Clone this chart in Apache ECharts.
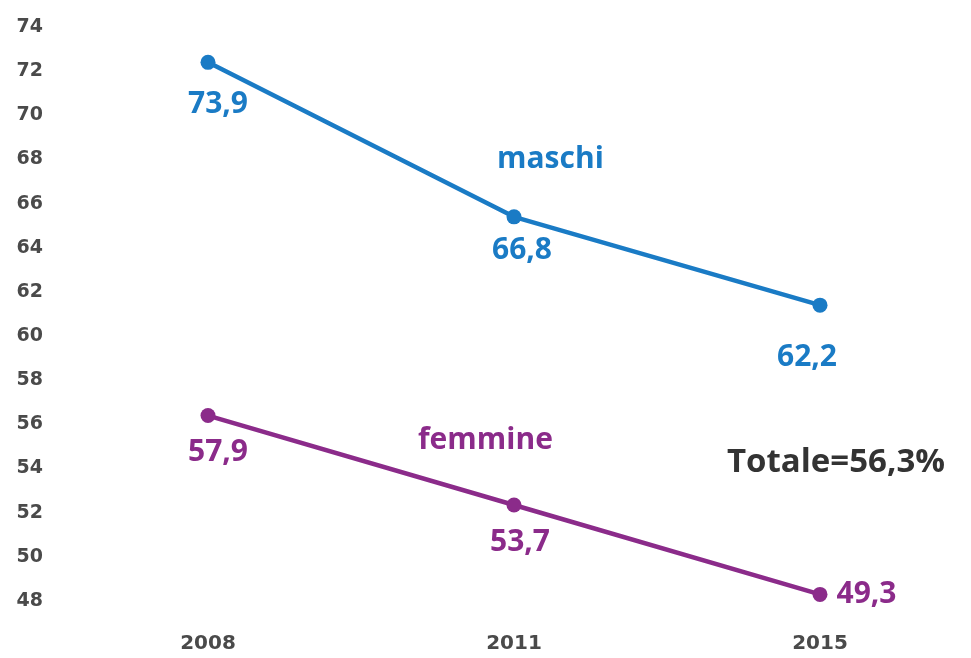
<!DOCTYPE html>
<html>
<head>
<meta charset="utf-8">
<script src="https://cdn.jsdelivr.net/npm/echarts@6/dist/echarts.min.js"></script>
<style>
  html, body { margin: 0; padding: 0; background: #fff; }
  #main { width: 971px; height: 658px; }
</style>
</head>
<body>
<div id="main"></div>
<script>
// dati
var anni = ['2008', '2011', '2015'];
var maschi = [72.4, 65.4, 61.4];          // posizione dei punti sull'asse
var femmine = [56.4, 52.35, 48.3];
var etichetteMaschi = ['73,9', '66,8', '62,2'];
var etichetteFemmine = ['57,9', '53,7', '49,3'];
var totale = 'Totale=56,3%';

var BLU = '#1a7bc5';
var VIOLA = '#8b2b8a';

// posizione delle etichette per ogni punto
var posMaschi = [
  { position: 'bottom', offset: [10, 15] },
  { position: 'bottom', offset: [8, 6] },
  { position: 'bottom', offset: [-13, 25] }
];
var posFemmine = [
  { position: 'bottom', offset: [10, 9] },
  { position: 'bottom', offset: [6, 10] },
  { position: 'right', offset: [4, 0] }
];

function punti(valori, etichette, pos) {
  return valori.map(function (v, i) {
    return {
      value: v,
      label: Object.assign({ formatter: etichette[i] }, pos[i])
    };
  });
}

var myChart = echarts.init(document.getElementById('main'));

var labelFont = {
  fontFamily: 'Open Sans, Noto Sans, sans-serif',
  fontWeight: 'bold',
  fontSize: 30
};

myChart.setOption({
  animation: false,
  grid: { left: 208, right: 151, top: 27, bottom: 57 },
  xAxis: {
    type: 'category',
    data: anni,
    boundaryGap: false,
    axisLine: { show: false },
    axisTick: { show: false },
    axisLabel: {
      margin: 33,
      color: '#4a4a4a',
      fontFamily: 'DejaVu Sans, sans-serif',
      fontWeight: 'bold',
      fontSize: 20
    }
  },
  yAxis: {
    type: 'value',
    min: 48,
    max: 74,
    interval: 2,
    splitLine: { show: false },
    axisLine: { show: false },
    axisTick: { show: false },
    axisLabel: {
      margin: 165,
      color: '#4a4a4a',
      fontFamily: 'DejaVu Sans, sans-serif',
      fontWeight: 'bold',
      fontSize: 19
    }
  },
  series: [
    {
      name: 'maschi',
      type: 'line',
      data: punti(maschi, etichetteMaschi, posMaschi),
      symbol: 'circle',
      symbolSize: 15,
      lineStyle: { color: BLU, width: 4.5 },
      itemStyle: { color: BLU },
      label: Object.assign({ show: true, color: BLU }, labelFont)
    },
    {
      name: 'femmine',
      type: 'line',
      data: punti(femmine, etichetteFemmine, posFemmine),
      symbol: 'circle',
      symbolSize: 15,
      lineStyle: { color: VIOLA, width: 4.5 },
      itemStyle: { color: VIOLA },
      label: Object.assign({ show: true, color: VIOLA }, labelFont)
    }
  ],
  graphic: [
    {
      type: 'text', left: 497, top: 144,
      style: { text: 'maschi', fill: BLU, font: 'bold 30px "Open Sans", sans-serif' }
    },
    {
      type: 'text', left: 418, top: 425,
      style: { text: 'femmine', fill: VIOLA, font: 'bold 30px "Open Sans", sans-serif' }
    },
    {
      type: 'text', left: 727, top: 446,
      style: { text: totale, fill: '#333333', font: 'bold 33px "Open Sans", sans-serif' }
    }
  ]
});
</script>
</body>
</html>
